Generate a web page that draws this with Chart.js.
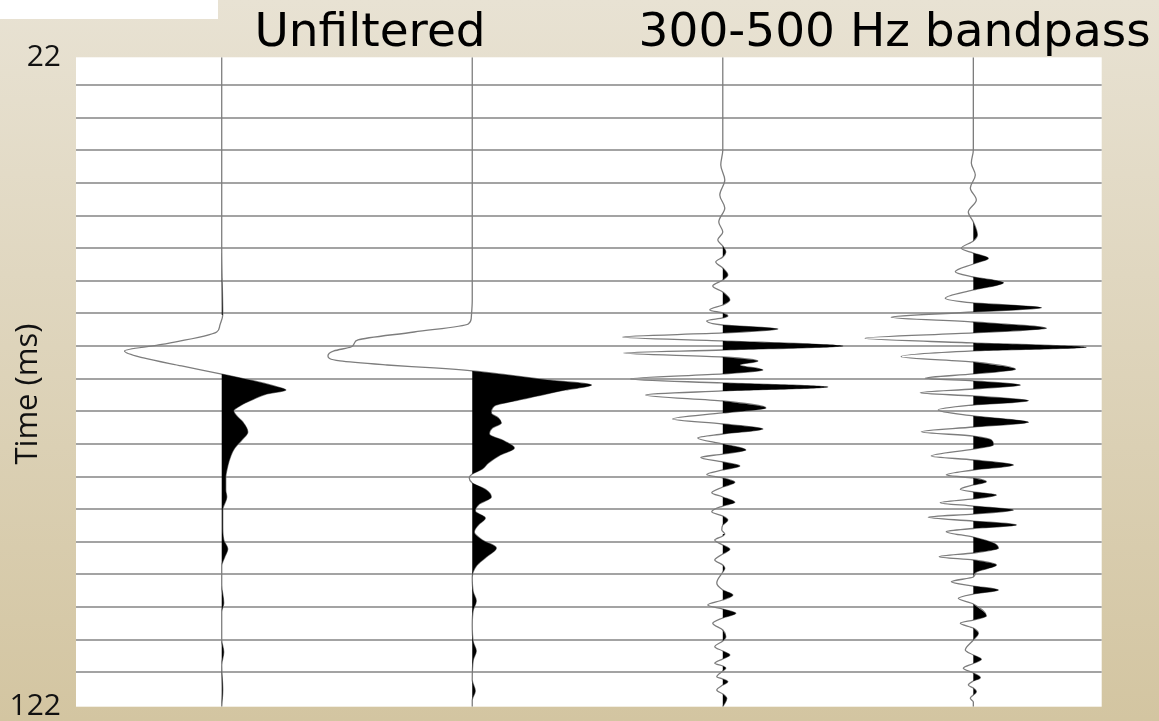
<!DOCTYPE html>
<html>
<head>
<meta charset="utf-8">
<script src="https://cdn.jsdelivr.net/npm/chart.js@4/dist/chart.umd.min.js"></script>
<style>
  html, body { margin: 0; padding: 0; background: #e2d9c4; }
  canvas { display: block; }
</style>
</head>
<body>
<canvas id="chart" width="1159" height="721"></canvas>
<script>
// Trace baselines on the horizontal (amplitude) axis
const TRACE_OFFSETS = [250, 500, 750, 1000];

// Each trace: [time (ms), amplitude] samples
const UNFILTERED_1 = [
  [22,0],[51.67,0],[61.68,1],[63.37,-2],[64.3,-5],[66.3,-63],[67.22,-97],[68.3,-78],[69.53,-40],
  [70.77,0],[71.69,28],[72.61,52],[73.23,64],[73.84,45],[74.77,30],[75.69,18],[76.46,12],[77.23,15],
  [78.16,21],[79.7,26],[80.93,20],[82.16,13],[83.39,9],[84.93,6],[86.78,4],[88.63,4],[89.71,5],
  [91.71,1],[94.02,1],[96.33,2],[97.72,6],[98.95,3],[100.34,0],[103.26,0],[106.03,2],[107.42,0],
  [111.73,0],[113.58,2],[115.58,0],[119.43,1],[122,0]
];
const UNFILTERED_2 = [
  [22,0],[59.37,0],[62.14,-1],[63.06,-4],[64.3,-58],[65.53,-114],[66.14,-118],[66.61,-121],[67.22,-138],
  [67.99,-144],[68.76,-132],[69.38,-85],[69.84,-38],[70.3,0],[70.92,35],[71.69,75],[72.46,119],[73.23,93],
  [74.15,65],[74.92,42],[75.69,22],[76.77,19],[77.54,26],[78.31,29],[79.08,20],[80.01,17],[81.08,32],
  [82.16,42],[83.24,28],[84.47,16],[85.39,10],[86.16,0],[86.78,-3],[87.55,0],[88.63,14],[89.71,19],
  [90.79,7],[91.87,3],[92.94,13],[94.02,6],[95.1,2],[96.33,10],[97.56,24],[98.95,14],[100.34,4],
  [102.03,0],[104.34,1],[105.72,4],[107.11,1],[109.42,0],[112.04,1],[113.42,4],[114.8,1],[117.89,0],
  [119.58,3],[120.97,0],[122,0]
];
const BANDPASS_1 = [
  [22,0],[36.27,0],[38.58,-2],[40.89,2],[43.2,-3],[45.2,2],[47.36,-4],[48.9,0],[50.13,-5],[51.06,0],
  [51.98,3],[52.75,0],[53.52,-7],[54.44,0],[55.52,5],[56.29,0],[57.21,-10],[58.14,0],[59.37,7],[60.14,0],
  [60.91,-13],[61.37,0],[61.83,5],[62.14,0],[62.6,-16],[63.22,0],[63.83,55],[64.45,0],[65.07,-100],
  [65.68,0],[66.45,120],[67.07,0],[67.53,-99],[68.15,0],[68.76,35],[69.38,17],[70.15,40],[70.76,0],
  [71.53,-92],[72.15,0],[72.76,105],[73.38,0],[73.99,-77],[74.92,0],[75.99,43],[76.77,0],[77.7,-50],
  [78.47,0],[79.24,40],[80.01,0],[80.62,-25],[81.55,0],[82.47,23],[83.09,0],[83.63,-22],[84.32,0],
  [84.93,17],[85.55,0],[86.24,-16],[86.78,0],[87.44,12],[88.17,0],[89.05,-11],[89.71,0],[90.53,12],
  [91.1,0],[91.97,-11],[92.64,0],[93.25,5],[94.02,0],[94.79,-1],[95.41,2],[95.71,0],[96.33,-8],[97.1,0],
  [97.77,7],[98.49,0],[99.41,-8],[100.18,0],[100.69,2],[101.26,0],[102.96,-6],[104.03,0],[104.8,10],
  [105.57,0],[106.34,-15],[106.96,0],[107.62,13],[108.34,0],[109.16,-10],[110.19,0],[111.22,3],[111.88,0],
  [112.76,-8],[113.42,0],[114.04,7],[114.65,0],[115.31,-8],[115.73,0],[116.04,3],[116.5,0],[117.38,-6],
  [117.74,0],[118.15,5],[118.66,0],[119.43,-6],[120.05,0],[120.71,4],[122,0]
];
const BANDPASS_2 = [
  [22,0],[36.27,0],[38.27,-2],[40.12,2],[42.12,-3],[43.97,3],[45.82,-5],[47.36,0],[49.36,4],[50.29,0],
  [51.41,-12],[52.14,0],[52.95,15],[53.83,0],[55.02,-18],[55.83,0],[56.71,30],[57.83,0],[59.11,-28],
  [59.83,0],[60.56,68],[61.22,0],[62.04,-82],[62.76,0],[63.74,73],[64.45,0],[65.27,-108],[65.99,0],
  [66.66,113],[67.22,0],[68.1,-72],[68.91,0],[70.04,42],[70.76,0],[71.43,-48],[71.84,0],[72.46,47],
  [73.08,0],[73.65,-53],[74.15,0],[74.88,55],[75.54,0],[76.31,-35],[77.23,0],[78.2,55],[78.93,0],
  [79.65,-52],[80.32,0],[80.93,18],[81.7,20],[82.32,0],[83.39,-42],[84.01,0],[84.78,40],[85.55,0],
  [86.32,-27],[86.78,0],[87.35,13],[87.86,0],[88.53,-13],[88.94,0],[89.4,23],[90.01,0],[90.58,-33],
  [91.1,0],[91.71,40],[92.33,0],[92.84,-45],[93.41,0],[94.02,43],[94.56,0],[95.05,-27],[95.87,0],
  [96.79,20],[97.61,25],[98.33,0],[98.9,-34],[99.41,0],[100.18,23],[101.26,3],[102.03,0],[102.76,-22],
  [103.42,0],[104.03,25],[104.65,0],[105.31,-15],[106.19,0],[108.03,13],[108.65,0],[109.16,-13],
  [109.89,0],[110.7,5],[111.73,0],[113.27,-8],[114.04,0],[114.7,8],[115.35,0],[116.09,-10],[116.81,0],
  [117.53,7],[118.04,0],[118.66,-5],[119.12,0],[119.69,3],[120.2,0],[120.71,-3],[121.28,0],[122,0]
];

// Panel headings and their positions on the amplitude axis
const PANEL_TITLES = ['Unfiltered', '300-500 Hz bandpass'];
const PANEL_TITLE_POS = [398, 921.5];

// Time axis: end labels and horizontal reference lines
const TIME_LABELS = [22, 122];
const GRID_TIMES = [26.3, 31.3, 36.3, 41.3, 46.4, 51.4, 56.4, 61.4, 66.5, 71.5,
                    76.5, 81.5, 86.6, 91.6, 96.6, 101.6, 106.7, 111.7, 116.7];

const TRACES = [UNFILTERED_1, UNFILTERED_2, BANDPASS_1, BANDPASS_2];
const X_MIN = 104.6, X_MAX = 1128.1;

const datasets = [];
// Positive lobes, shaded black (variable-area display); negative samples are left out
TRACES.forEach((trace, i) => {
  const base = TRACE_OFFSETS[i];
  datasets.push({
    data: trace.map(([t, a]) => ({ x: a < 0 ? null : base + a, y: t })),
    borderWidth: 0,
    backgroundColor: '#000000',
    fill: { value: base },
    spanGaps: false,
    pointRadius: 0,
    cubicInterpolationMode: 'monotone'
  });
});
// Wiggle lines
TRACES.forEach((trace, i) => {
  const base = TRACE_OFFSETS[i];
  datasets.push({
    data: trace.map(([t, a]) => ({ x: base + a, y: t })),
    borderColor: '#7d7d7d',
    borderWidth: 1.3,
    fill: false,
    pointRadius: 0,
    cubicInterpolationMode: 'monotone'
  });
});

const backdrop = {
  id: 'backdrop',
  beforeDraw(chart) {
    const { ctx, width, height, chartArea: a } = chart;
    ctx.save();
    const g = ctx.createLinearGradient(0, 0, 0, height);
    g.addColorStop(0, '#e8e2d3');
    g.addColorStop(1, '#d3c5a1');
    ctx.fillStyle = g;
    ctx.fillRect(0, 0, width, height);
    ctx.fillStyle = '#ffffff';
    ctx.fillRect(0, 0, 218, 19);
    ctx.fillRect(a.left, a.top, a.right - a.left, a.bottom - a.top);
    ctx.restore();
  }
};

new Chart(document.getElementById('chart'), {
  type: 'line',
  data: { datasets },
  plugins: [backdrop],
  options: {
    indexAxis: 'y',
    responsive: false,
    animation: false,
    events: [],
    layout: { autoPadding: false, padding: { left: 0, right: 57.3, top: 0, bottom: 14.3 } },
    plugins: { legend: { display: false }, tooltip: { enabled: false }, title: { display: false } },
    scales: {
      x: { type: 'linear', min: X_MIN, max: X_MAX, display: false },
      x2: {
        type: 'linear', position: 'top', min: X_MIN, max: X_MAX,
        grid: { display: false, drawTicks: false },
        border: { display: false },
        afterBuildTicks: s => { s.ticks = PANEL_TITLE_POS.map(v => ({ value: v })); },
        ticks: {
          autoSkip: false, maxRotation: 0, minRotation: 0, padding: -4, color: '#000000',
          font: { family: 'DejaVu Sans', size: 47, lineHeight: 1.15 },
          callback: (v, idx) => PANEL_TITLES[idx]
        },
        afterFit: s => { s.height = 57.3; s.paddingLeft = 0; s.paddingRight = 0; }
      },
      y: {
        type: 'linear', reverse: true, min: TIME_LABELS[0], max: TIME_LABELS[1],
        afterBuildTicks: s => {
          s.ticks = [TIME_LABELS[0], ...GRID_TIMES, TIME_LABELS[1]].map(v => ({ value: v }));
        },
        ticks: {
          autoSkip: false, padding: 15, color: '#111111',
          font: { family: 'Open Sans', size: 30 },
          callback: v => (TIME_LABELS.includes(v) ? String(v) : '')
        },
        grid: {
          drawTicks: false, lineWidth: 2,
          color: c => (c.tick && TIME_LABELS.includes(c.tick.value) ? 'rgba(0,0,0,0)' : '#a3a3a3')
        },
        border: { display: false },
        title: {
          display: true, text: 'Time (ms)   ', color: '#111111',
          font: { family: 'Open Sans', size: 31 }, padding: { top: 10, bottom: 0 }
        },
        afterFit: s => { s.width = 76; s.paddingTop = 0; s.paddingBottom = 0; }
      }
    }
  }
});
</script>
</body>
</html>
